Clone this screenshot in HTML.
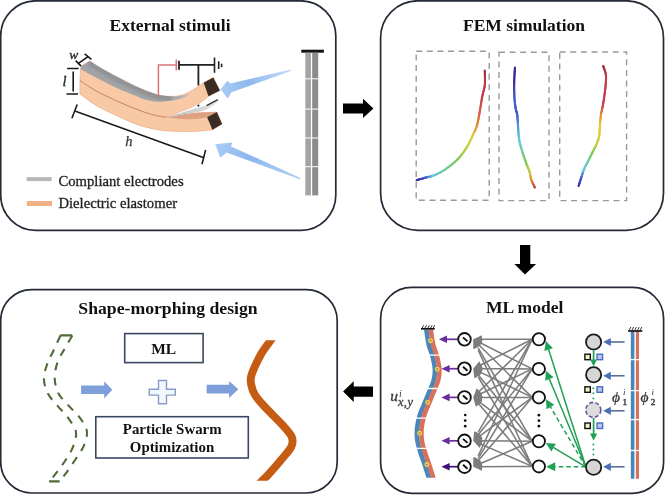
<!DOCTYPE html>
<html><head><meta charset="utf-8">
<style>
html,body{margin:0;padding:0;background:#fff;}
body{width:670px;height:495px;overflow:hidden;position:relative;}
svg{position:absolute;left:0;top:0;will-change:transform;}
.t{font-family:"Liberation Serif",serif;font-weight:bold;font-size:17.5px;fill:#111;}
text{font-family:"Liberation Serif",serif;}
</style></head><body>
<svg width="670" height="495" viewBox="0 0 670 495">
<!-- boxes -->
<g fill="none" stroke="#242a36" stroke-width="1.7">
<rect x="0.7" y="0.8" width="335.1" height="229.5" rx="35" ry="35"/>
<rect x="380.6" y="0.8" width="282.9" height="229.5" rx="37" ry="37"/>
<rect x="0.7" y="289.6" width="336.5" height="203.4" rx="31" ry="31"/>
<rect x="380.6" y="287.4" width="283" height="205.9" rx="31" ry="31"/>
</g>
<!-- big arrows -->
<g fill="#000">
<path d="M343,103.4 H363 V98.7 L373.4,108.4 L363,118.1 V113.4 H343 Z"/>
<path d="M520,245 H530.3 V264.1 H536.1 L525,274.6 L514.4,264.1 H520 Z"/>
<path d="M373,386.6 H353.7 V381.3 L343.1,391.6 L353.7,401.9 V396.7 H373 Z"/>
</g>
<!-- titles -->
<text class="t" x="109.5" y="31">External stimuli</text>
<text class="t" x="463" y="31">FEM simulation</text>
<text class="t" x="78.3" y="313.5" style="font-size:17.7px">Shape-morphing design</text>
<text class="t" x="486" y="313.2">ML model</text>
<path d="M80,80.6 C82.5,82.2 90.0,87.4 95.0,90.3 C100.0,93.2 105.0,95.4 110.0,97.8 C115.0,100.2 120.0,102.4 125.0,104.5 C130.0,106.6 135.0,108.8 140.0,110.6 C145.0,112.4 150.5,114.2 155.0,115.3 C159.5,116.4 162.8,117.1 167.0,117.2 C171.2,117.3 175.3,116.6 180.0,116.0 C184.7,115.4 190.5,114.2 195.0,113.6 C199.5,113.0 203.4,112.8 207.0,112.6 C210.6,112.3 215.2,112.2 216.8,112.1 L222.1,124 L212.4,129.8 C209.5,130.1 201.2,131.1 195.0,131.3 C188.8,131.6 181.2,131.6 175.0,131.3 C168.8,131.1 163.8,130.8 158.0,129.8 C152.2,128.8 145.5,127.2 140.0,125.5 C134.5,123.8 130.0,121.7 125.0,119.5 C120.0,117.3 115.0,115.0 110.0,112.5 C105.0,110.0 100.0,107.9 95.0,104.8 C90.0,101.7 82.5,95.8 80.0,94.0 Z" fill="#f9c9a6" stroke="#e8b08e" stroke-width="0.8"/>
<path d="M168.0,117.5 C170.0,117.8 176.0,118.7 180.0,119.0 C184.0,119.3 188.7,119.4 192.0,119.3 C195.3,119.2 197.5,118.9 200.0,118.6 C202.5,118.2 205.9,117.4 207.1,117.2 L216.8,112.1 C214.8,112.1 209.1,112.1 205.0,112.3 C200.9,112.5 196.2,112.6 192.0,113.0 C187.8,113.4 184.0,114.1 180.0,114.8 C176.0,115.5 170.0,116.9 168.0,117.3 Z" fill="#dea083"/>
<defs><linearGradient id="gapg" x1="170" y1="116" x2="218" y2="104" gradientUnits="userSpaceOnUse"><stop offset="0" stop-color="#bdbdbd"/><stop offset="0.6" stop-color="#d4d4d4"/><stop offset="1" stop-color="#e4e4e4"/></linearGradient></defs>
<path d="M168.0,117.2 C170.0,116.5 175.5,114.6 180.0,113.2 C184.5,111.8 190.6,109.9 195.0,108.6 C199.4,107.3 204.7,106.0 206.6,105.5 L217.8,99.7 L218.6,101.2 C217.5,102.0 214.3,104.7 212.0,106.2 C209.7,107.7 207.8,108.9 205.0,110.0 C202.2,111.1 199.2,111.8 195.0,112.6 C190.8,113.4 184.5,114.2 180.0,115.0 C175.5,115.8 170.0,117.0 168.0,117.4 Z" fill="url(#gapg)"/>
<path d="M206.6,105.6 L217.8,99.7" stroke="#333" stroke-width="1.3" fill="none"/>
<circle cx="198.4" cy="105.6" r="1.1" fill="#222"/>
<path d="M80.5,69 L81.7,66.1 L89.8,60.9 C91.5,62.0 96.6,65.5 100.0,67.5 C103.4,69.5 106.7,71.4 110.0,73.2 C113.3,75.0 115.8,76.3 120.0,78.4 C124.2,80.5 130.0,83.7 135.0,86.0 C140.0,88.3 145.8,90.8 150.0,92.3 C154.2,93.8 156.3,94.6 160.0,95.3 C163.7,96.0 168.3,96.5 172.0,96.5 C175.7,96.5 179.0,96.0 182.0,95.2 C185.0,94.4 187.5,92.9 190.0,91.6 C192.5,90.3 194.7,88.8 197.0,87.3 C199.3,85.8 202.6,83.5 203.7,82.8 L213.3,77.5 L219.9,90.6 L208.5,96.3 C207.1,97.4 203.2,100.8 200.0,102.8 C196.8,104.8 192.7,106.6 189.0,108.2 C185.3,109.8 181.3,111.2 178.0,112.6 C174.7,114.0 170.5,115.9 169.0,116.6 C165.0,116.9 159.5,116.4 155.0,115.3 C150.5,114.2 145.0,112.4 140.0,110.6 C135.0,108.8 130.0,106.6 125.0,104.5 C120.0,102.4 115.0,100.2 110.0,97.8 C105.0,95.4 100.0,93.2 95.0,90.3 C90.0,87.4 82.5,82.2 80.0,80.6 Z" fill="#f9c9a6" stroke="#e8b08e" stroke-width="0.8"/>
<defs><linearGradient id="grg" x1="160" y1="0" x2="193" y2="0" gradientUnits="userSpaceOnUse"><stop offset="0" stop-color="#a2a3a6"/><stop offset="0.55" stop-color="#abacae"/><stop offset="1" stop-color="#e8c4ac"/></linearGradient></defs>
<path d="M80.5,69 L81.7,66.1 L89.8,60.9 C91.5,62.0 96.6,65.5 100.0,67.5 C103.4,69.5 106.7,71.4 110.0,73.2 C113.3,75.0 115.8,76.3 120.0,78.4 C124.2,80.5 130.0,83.7 135.0,86.0 C140.0,88.3 145.8,90.8 150.0,92.3 C154.2,93.8 156.3,94.6 160.0,95.3 C163.7,96.0 168.0,96.5 172.0,96.5 C176.0,96.5 180.7,95.8 184.0,95.0 C187.3,94.2 190.7,92.5 192.0,92.0 C190.7,92.9 187.3,96.2 184.0,97.6 C180.7,99.0 176.3,99.9 172.0,100.6 C167.7,101.3 162.5,102.0 158.0,101.8 C153.5,101.6 148.8,100.6 145.0,99.6 C141.2,98.5 139.2,97.2 135.0,95.5 C130.8,93.8 124.2,91.2 120.0,89.4 C115.8,87.6 113.3,86.5 110.0,84.8 C106.7,83.1 103.3,81.2 100.0,79.5 C96.7,77.8 93.2,76.2 90.0,74.5 C86.8,72.8 82.5,70.2 81.0,69.3 Z" fill="url(#grg)"/>
<clipPath id="gclip"><path d="M80.5,69 L81.7,66.1 L89.8,60.9 C91.5,62.0 96.6,65.5 100.0,67.5 C103.4,69.5 106.7,71.4 110.0,73.2 C113.3,75.0 115.8,76.3 120.0,78.4 C124.2,80.5 130.0,83.7 135.0,86.0 C140.0,88.3 145.8,90.8 150.0,92.3 C154.2,93.8 156.3,94.6 160.0,95.3 C163.7,96.0 168.0,96.5 172.0,96.5 C176.0,96.5 180.7,95.8 184.0,95.0 C187.3,94.2 190.7,92.5 192.0,92.0 C190.7,92.9 187.3,96.2 184.0,97.6 C180.7,99.0 176.3,99.9 172.0,100.6 C167.7,101.3 162.5,102.0 158.0,101.8 C153.5,101.6 148.8,100.6 145.0,99.6 C141.2,98.5 139.2,97.2 135.0,95.5 C130.8,93.8 124.2,91.2 120.0,89.4 C115.8,87.6 113.3,86.5 110.0,84.8 C106.7,83.1 103.3,81.2 100.0,79.5 C96.7,77.8 93.2,76.2 90.0,74.5 C86.8,72.8 82.5,70.2 81.0,69.3 Z"/></clipPath>
<path d="M89.8,60.9 C91.5,62.0 96.6,65.5 100.0,67.5 C103.4,69.5 106.7,71.4 110.0,73.2 C113.3,75.0 115.8,76.3 120.0,78.4 C124.2,80.5 130.0,83.7 135.0,86.0 C140.0,88.3 145.8,90.8 150.0,92.3 C154.2,93.8 156.3,94.6 160.0,95.3 C163.7,96.0 170.0,96.3 172.0,96.5" fill="none" stroke="#8c8e92" stroke-width="9" stroke-opacity="0.75" clip-path="url(#gclip)" filter="url(#gblur)"/>
<filter id="gblur" x="-10%" y="-10%" width="120%" height="120%"><feGaussianBlur stdDeviation="1.2"/></filter>
<path d="M80.0,80.6 C82.5,82.2 90.0,87.4 95.0,90.3 C100.0,93.2 105.0,95.4 110.0,97.8 C115.0,100.2 120.0,102.4 125.0,104.5 C130.0,106.6 135.0,108.8 140.0,110.6 C145.0,112.4 150.5,114.2 155.0,115.3 C159.5,116.4 165.0,116.9 167.0,117.2" fill="none" stroke="#c48e6e" stroke-width="1"/>
<path d="M203.7,82.8 L213.3,77.5 L219.9,90.6 L208.5,96.3 Z" fill="#3b2b25"/>
<path d="M207.1,117.2 L216.8,112.1 L222.1,124 L212.4,129.8 Z" fill="#3b2b25"/>
<g fill="none" stroke-linecap="butt">
<path d="M158.4,96.5 V64.9 H176.3" stroke="#d9737a" stroke-width="1.5"/>
<path d="M176.3,59.5 V70.3" stroke="#d9737a" stroke-width="1.6"/>
<path d="M179,60.7 V69.7" stroke="#222" stroke-width="1.8"/>
<path d="M179,64.9 H214.5 M198.4,64.9 V85.5" stroke="#222" stroke-width="1.8"/>
<path d="M214.5,57.4 V72.7 M218.7,61.3 V69.1 M221.6,63.7 V67.3" stroke="#222" stroke-width="1.6"/>
</g>
<g stroke="#1a1a1a" stroke-width="1.6" fill="none">
<path d="M75.6,60.6 L81.1,66.1 M84.7,53.9 L91.4,59.4 M78.4,63.4 L88,56.6"/>
<path d="M67.1,68.5 H78.6 M73.2,71.5 V91.5 M66.5,94 H78"/>
<path d="M71.9,118.2 L77.2,104.5 M75.5,111.2 L203.2,157.5 M202,164.2 L205.6,149.9"/>
</g>
<text x="69.2" y="58.6" font-family="Liberation Serif" font-style="italic" font-size="13.5" fill="#2a2a2a" stroke="#2a2a2a" stroke-width="0.35">w</text>
<text x="62.6" y="86.2" font-family="Liberation Serif" font-style="italic" font-size="14.5" fill="#2a2a2a" stroke="#2a2a2a" stroke-width="0.35">l</text>
<text x="125.3" y="145.6" font-family="Liberation Serif" font-style="italic" font-size="14.5" fill="#3a3a3a" stroke="#3a3a3a" stroke-width="0.25">h</text>
<defs><linearGradient id="ba1" x1="290" y1="70" x2="220" y2="90" gradientUnits="userSpaceOnUse"><stop offset="0" stop-color="#c4dbf6"/><stop offset="0.6" stop-color="#8fb8ef"/><stop offset="1" stop-color="#a9cdf7"/></linearGradient><linearGradient id="ba2" x1="300" y1="178" x2="215" y2="144" gradientUnits="userSpaceOnUse"><stop offset="0" stop-color="#b5d0f4"/><stop offset="0.6" stop-color="#8db6ee"/><stop offset="1" stop-color="#a9cdf7"/></linearGradient></defs>
<path d="M290.6,69.5 L291,70.9 L231.5,92.2 L227.8,98.4 L220.5,89.3 L227.5,80.8 L230.5,83.4 Z" fill="url(#ba1)"/>
<path d="M300.6,178 L300.2,179.4 L226.5,152.6 L220.4,157.8 L215.2,144.2 L232.4,142.6 L231,146.4 Z" fill="url(#ba2)"/>
<rect x="301.3" y="49.7" width="22.6" height="3" fill="#111"/>
<rect x="305.3" y="52.7" width="5.7" height="25.6" fill="#a4a4a4"/>
<rect x="312.2" y="52.7" width="6" height="25.6" fill="#8c8c8c"/>
<rect x="305.3" y="79.3" width="5.7" height="29.3" fill="#a4a4a4"/>
<rect x="312.2" y="79.3" width="6" height="29.3" fill="#8c8c8c"/>
<rect x="305.3" y="109.6" width="5.7" height="27.9" fill="#a4a4a4"/>
<rect x="312.2" y="109.6" width="6" height="27.9" fill="#8c8c8c"/>
<rect x="305.3" y="138.5" width="5.7" height="27.7" fill="#a4a4a4"/>
<rect x="312.2" y="138.5" width="6" height="27.7" fill="#8c8c8c"/>
<rect x="305.3" y="167.2" width="5.7" height="28.2" fill="#a4a4a4"/>
<rect x="312.2" y="167.2" width="6" height="28.2" fill="#8c8c8c"/>
<rect x="26.7" y="177.1" width="25" height="4" fill="#b8b8b8"/>
<rect x="26.8" y="201" width="25.2" height="5" fill="#f2b185"/>
<text x="58.4" y="186" font-family="Liberation Serif" font-size="14.7" fill="#222" stroke="#222" stroke-width="0.3">Compliant electrodes</text>
<text x="58.4" y="208" font-family="Liberation Serif" font-size="14.7" fill="#222" stroke="#222" stroke-width="0.3">Dielectric elastomer</text>
<g fill="none" stroke="#999" stroke-width="1.4" stroke-dasharray="6 4.6">
<rect x="416.2" y="51.3" width="73.0" height="148.9"/>
<rect x="499" y="52.2" width="50.0" height="148.4"/>
<rect x="559.7" y="52" width="66.9" height="148.6"/>
</g>
<g fill="none" stroke-width="2.1" stroke-linecap="round"><path d="M416.60,180.20 L417.15,180.04" stroke="#3c2a98"/><path d="M417.15,180.04 L417.86,179.84" stroke="#3d2f9d"/><path d="M417.86,179.84 L418.70,179.60" stroke="#3e34a2"/><path d="M418.70,179.60 L419.64,179.32" stroke="#3e38a7"/><path d="M419.64,179.32 L420.66,179.03" stroke="#3f3dac"/><path d="M420.66,179.03 L421.71,178.73" stroke="#4042b1"/><path d="M421.71,178.73 L422.77,178.43" stroke="#4147b6"/><path d="M422.77,178.43 L423.81,178.13" stroke="#424cbb"/><path d="M423.81,178.13 L424.80,177.85" stroke="#4250c0"/><path d="M424.80,177.85 L425.70,177.60" stroke="#4355c5"/><path d="M425.70,177.60 L426.53,177.38" stroke="#455dc9"/><path d="M426.53,177.38 L427.32,177.20" stroke="#4868cb"/><path d="M427.32,177.20 L428.08,177.03" stroke="#4c74cd"/><path d="M428.08,177.03 L428.82,176.88" stroke="#4f7fcf"/><path d="M428.82,176.88 L429.56,176.72" stroke="#528ad1"/><path d="M429.56,176.72 L430.31,176.55" stroke="#5595d4"/><path d="M430.31,176.55 L431.08,176.35" stroke="#58a0d6"/><path d="M431.08,176.35 L431.87,176.12" stroke="#5cacd8"/><path d="M431.87,176.12 L432.71,175.84" stroke="#5fb7da"/><path d="M432.71,175.84 L433.60,175.50" stroke="#62c2dc"/><path d="M433.60,175.50 L434.53,175.12" stroke="#64c8db"/><path d="M434.53,175.12 L435.49,174.73" stroke="#65c8d5"/><path d="M435.49,174.73 L436.48,174.31" stroke="#66c9cf"/><path d="M436.48,174.31 L437.49,173.86" stroke="#67c9ca"/><path d="M437.49,173.86 L438.52,173.38" stroke="#68cac4"/><path d="M438.52,173.38 L439.59,172.85" stroke="#69cabe"/><path d="M439.59,172.85 L440.68,172.27" stroke="#6acbb8"/><path d="M440.68,172.27 L441.79,171.64" stroke="#6bcbb3"/><path d="M441.79,171.64 L442.93,170.95" stroke="#6cccad"/><path d="M442.93,170.95 L444.10,170.20" stroke="#6dcca7"/><path d="M444.10,170.20 L445.32,169.37" stroke="#6ecca1"/><path d="M445.32,169.37 L446.62,168.45" stroke="#70cc99"/><path d="M446.62,168.45 L447.96,167.47" stroke="#72cb92"/><path d="M447.96,167.47 L449.34,166.44" stroke="#74cb8a"/><path d="M449.34,166.44 L450.73,165.36" stroke="#76ca83"/><path d="M450.73,165.36 L452.12,164.24" stroke="#77ca7b"/><path d="M452.12,164.24 L453.47,163.11" stroke="#79c974"/><path d="M453.47,163.11 L454.79,161.97" stroke="#7bc96c"/><path d="M454.79,161.97 L456.04,160.83" stroke="#7dc865"/><path d="M456.04,160.83 L457.20,159.70" stroke="#7fc85d"/><path d="M457.20,159.70 L458.29,158.58" stroke="#82c858"/><path d="M458.29,158.58 L459.33,157.44" stroke="#88c956"/><path d="M459.33,157.44 L460.33,156.30" stroke="#8eca54"/><path d="M460.33,156.30 L461.29,155.14" stroke="#93cb51"/><path d="M461.29,155.14 L462.21,153.96" stroke="#99cc4f"/><path d="M462.21,153.96 L463.09,152.78" stroke="#9fcd4c"/><path d="M463.09,152.78 L463.95,151.58" stroke="#a5ce4a"/><path d="M463.95,151.58 L464.79,150.36" stroke="#aacf48"/><path d="M464.79,150.36 L465.60,149.14" stroke="#b0d045"/><path d="M465.60,149.14 L466.40,147.90" stroke="#b6d143"/><path d="M466.40,147.90 L467.18,146.63" stroke="#bbd141"/><path d="M467.18,146.63 L467.93,145.30" stroke="#bfd140"/><path d="M467.93,145.30 L468.66,143.94" stroke="#c3d040"/><path d="M468.66,143.94 L469.36,142.57" stroke="#c7d03f"/><path d="M469.36,142.57 L470.03,141.19" stroke="#cbcf3e"/><path d="M470.03,141.19 L470.68,139.82" stroke="#cfcf3d"/><path d="M470.68,139.82 L471.30,138.48" stroke="#d3ce3c"/><path d="M471.30,138.48 L471.89,137.19" stroke="#d7ce3c"/><path d="M471.89,137.19 L472.46,135.96" stroke="#dbcd3b"/><path d="M472.46,135.96 L473.00,134.80" stroke="#dfcd3a"/><path d="M473.00,134.80 L473.50,133.74" stroke="#e2ca3a"/><path d="M473.50,133.74 L473.97,132.77" stroke="#e2c43a"/><path d="M473.97,132.77 L474.41,131.88" stroke="#e3bf3a"/><path d="M474.41,131.88 L474.81,131.03" stroke="#e3b93a"/><path d="M474.81,131.03 L475.19,130.20" stroke="#e3b43a"/><path d="M475.19,130.20 L475.56,129.37" stroke="#e4ae3a"/><path d="M475.56,129.37 L475.90,128.52" stroke="#e4a93a"/><path d="M475.90,128.52 L476.24,127.63" stroke="#e5a33a"/><path d="M476.24,127.63 L476.57,126.66" stroke="#e59e3a"/><path d="M476.57,126.66 L476.90,125.60" stroke="#e5983a"/><path d="M476.90,125.60 L477.22,124.46" stroke="#e5933a"/><path d="M477.22,124.46 L477.52,123.27" stroke="#e38d3a"/><path d="M477.52,123.27 L477.80,122.04" stroke="#e2883b"/><path d="M477.80,122.04 L478.07,120.77" stroke="#e0833c"/><path d="M478.07,120.77 L478.33,119.46" stroke="#de7d3c"/><path d="M478.33,119.46 L478.58,118.12" stroke="#dd783d"/><path d="M478.58,118.12 L478.84,116.75" stroke="#db723d"/><path d="M478.84,116.75 L479.09,115.36" stroke="#da6d3e"/><path d="M479.09,115.36 L479.34,113.94" stroke="#d8683f"/><path d="M479.34,113.94 L479.60,112.50" stroke="#d6623f"/><path d="M479.60,112.50 L479.86,111.01" stroke="#d55e40"/><path d="M479.86,111.01 L480.13,109.45" stroke="#d35a41"/><path d="M480.13,109.45 L480.39,107.83" stroke="#d15742"/><path d="M480.39,107.83 L480.65,106.18" stroke="#cf5342"/><path d="M480.65,106.18 L480.91,104.52" stroke="#cd4f43"/><path d="M480.91,104.52 L481.16,102.86" stroke="#cc4c44"/><path d="M481.16,102.86 L481.42,101.23" stroke="#ca4845"/><path d="M481.42,101.23 L481.68,99.65" stroke="#c84546"/><path d="M481.68,99.65 L481.94,98.13" stroke="#c64146"/><path d="M481.94,98.13 L482.20,96.70" stroke="#c43d47"/><path d="M482.20,96.70 L482.47,95.37" stroke="#c43c48"/><path d="M482.47,95.37 L482.76,94.13" stroke="#c43c48"/><path d="M482.76,94.13 L483.06,92.95" stroke="#c43c48"/><path d="M483.06,92.95 L483.36,91.82" stroke="#c43c48"/><path d="M483.36,91.82 L483.66,90.71" stroke="#c43c48"/><path d="M483.66,90.71 L483.95,89.62" stroke="#c43c48"/><path d="M483.95,89.62 L484.21,88.51" stroke="#c43c48"/><path d="M484.21,88.51 L484.45,87.36" stroke="#c43c48"/><path d="M484.45,87.36 L484.65,86.17" stroke="#c43c48"/><path d="M484.65,86.17 L484.80,84.90" stroke="#c43c48"/><path d="M484.80,84.90 L484.91,83.50" stroke="#c23b48"/><path d="M484.91,83.50 L484.97,81.96" stroke="#bf3948"/><path d="M484.97,81.96 L484.99,80.32" stroke="#bc3848"/><path d="M484.99,80.32 L484.99,78.64" stroke="#b83648"/><path d="M484.99,78.64 L484.96,76.96" stroke="#b53548"/><path d="M484.96,76.96 L484.92,75.35" stroke="#b23348"/><path d="M484.92,75.35 L484.88,73.84" stroke="#af3248"/><path d="M484.88,73.84 L484.84,72.50" stroke="#ac3048"/><path d="M484.84,72.50 L484.81,71.37" stroke="#a82f48"/><path d="M484.81,71.37 L484.80,70.50" stroke="#a52d48"/></g>
<g fill="none" stroke-width="2.1" stroke-linecap="round"><path d="M515.00,67.60 L514.95,68.44" stroke="#3c2896"/><path d="M514.95,68.44 L514.87,69.50" stroke="#3c2896"/><path d="M514.87,69.50 L514.78,70.75" stroke="#3c2896"/><path d="M514.78,70.75 L514.68,72.15" stroke="#3c2896"/><path d="M514.68,72.15 L514.58,73.67" stroke="#3c2896"/><path d="M514.58,73.67 L514.48,75.28" stroke="#3c2896"/><path d="M514.48,75.28 L514.38,76.93" stroke="#3c2896"/><path d="M514.38,76.93 L514.30,78.59" stroke="#3c2896"/><path d="M514.30,78.59 L514.24,80.23" stroke="#3c2896"/><path d="M514.24,80.23 L514.20,81.80" stroke="#3c2896"/><path d="M514.20,81.80 L514.18,83.38" stroke="#3c2a98"/><path d="M514.18,83.38 L514.17,85.03" stroke="#3d2f9d"/><path d="M514.17,85.03 L514.18,86.73" stroke="#3e34a2"/><path d="M514.18,86.73 L514.19,88.47" stroke="#3e38a7"/><path d="M514.19,88.47 L514.22,90.21" stroke="#3f3dac"/><path d="M514.22,90.21 L514.26,91.93" stroke="#4042b1"/><path d="M514.26,91.93 L514.30,93.61" stroke="#4147b6"/><path d="M514.30,93.61 L514.36,95.24" stroke="#424cbb"/><path d="M514.36,95.24 L514.42,96.77" stroke="#4250c0"/><path d="M514.42,96.77 L514.50,98.20" stroke="#4355c5"/><path d="M514.50,98.20 L514.59,99.54" stroke="#4458c8"/><path d="M514.59,99.54 L514.69,100.82" stroke="#4458c8"/><path d="M514.69,100.82 L514.81,102.05" stroke="#4458c8"/><path d="M514.81,102.05 L514.94,103.22" stroke="#4458c8"/><path d="M514.94,103.22 L515.08,104.34" stroke="#4458c8"/><path d="M515.08,104.34 L515.22,105.40" stroke="#4458c8"/><path d="M515.22,105.40 L515.37,106.41" stroke="#4458c8"/><path d="M515.37,106.41 L515.52,107.36" stroke="#4458c8"/><path d="M515.52,107.36 L515.66,108.26" stroke="#4458c8"/><path d="M515.66,108.26 L515.80,109.10" stroke="#4458c8"/><path d="M515.80,109.10 L515.94,109.84" stroke="#4458c8"/><path d="M515.94,109.84 L516.08,110.44" stroke="#4458c8"/><path d="M516.08,110.44 L516.23,110.95" stroke="#4458c8"/><path d="M516.23,110.95 L516.38,111.39" stroke="#4458c8"/><path d="M516.38,111.39 L516.53,111.79" stroke="#4458c8"/><path d="M516.53,111.79 L516.68,112.20" stroke="#4458c8"/><path d="M516.68,112.20 L516.82,112.64" stroke="#4458c8"/><path d="M516.82,112.64 L516.96,113.15" stroke="#4458c8"/><path d="M516.96,113.15 L517.08,113.76" stroke="#4458c8"/><path d="M517.08,113.76 L517.20,114.50" stroke="#4458c8"/><path d="M517.20,114.50 L517.30,115.36" stroke="#445ac9"/><path d="M517.30,115.36 L517.39,116.30" stroke="#4560cb"/><path d="M517.39,116.30 L517.47,117.31" stroke="#4766cd"/><path d="M517.47,117.31 L517.55,118.37" stroke="#486bcf"/><path d="M517.55,118.37 L517.62,119.49" stroke="#4971d1"/><path d="M517.62,119.49 L517.69,120.64" stroke="#4a77d3"/><path d="M517.69,120.64 L517.76,121.83" stroke="#4b7dd5"/><path d="M517.76,121.83 L517.83,123.04" stroke="#4d82d7"/><path d="M517.83,123.04 L517.91,124.27" stroke="#4e88d9"/><path d="M517.91,124.27 L518.00,125.50" stroke="#4f8edb"/><path d="M518.00,125.50 L518.09,126.77" stroke="#5193dc"/><path d="M518.09,126.77 L518.18,128.10" stroke="#5399dc"/><path d="M518.18,128.10 L518.26,129.47" stroke="#559edc"/><path d="M518.26,129.47 L518.34,130.88" stroke="#57a4dc"/><path d="M518.34,130.88 L518.43,132.31" stroke="#59a9dc"/><path d="M518.43,132.31 L518.53,133.73" stroke="#5bafdd"/><path d="M518.53,133.73 L518.64,135.14" stroke="#5db4dd"/><path d="M518.64,135.14 L518.77,136.51" stroke="#5fbadd"/><path d="M518.77,136.51 L518.92,137.84" stroke="#61bfdd"/><path d="M518.92,137.84 L519.10,139.10" stroke="#63c5dd"/><path d="M519.10,139.10 L519.30,140.29" stroke="#64c8db"/><path d="M519.30,140.29 L519.52,141.43" stroke="#65c8d5"/><path d="M519.52,141.43 L519.75,142.52" stroke="#66c9cf"/><path d="M519.75,142.52 L520.00,143.59" stroke="#67c9ca"/><path d="M520.00,143.59 L520.26,144.63" stroke="#68cac4"/><path d="M520.26,144.63 L520.54,145.67" stroke="#69cabe"/><path d="M520.54,145.67 L520.84,146.71" stroke="#6acbb8"/><path d="M520.84,146.71 L521.14,147.77" stroke="#6bcbb3"/><path d="M521.14,147.77 L521.47,148.87" stroke="#6cccad"/><path d="M521.47,148.87 L521.80,150.00" stroke="#6dcca7"/><path d="M521.80,150.00 L522.16,151.19" stroke="#6ecca1"/><path d="M522.16,151.19 L522.54,152.42" stroke="#70cc99"/><path d="M522.54,152.42 L522.94,153.68" stroke="#72cb92"/><path d="M522.94,153.68 L523.36,154.95" stroke="#74cb8a"/><path d="M523.36,154.95 L523.79,156.24" stroke="#76ca83"/><path d="M523.79,156.24 L524.23,157.51" stroke="#77ca7b"/><path d="M524.23,157.51 L524.66,158.77" stroke="#79c974"/><path d="M524.66,158.77 L525.09,160.00" stroke="#7bc96c"/><path d="M525.09,160.00 L525.50,161.18" stroke="#7dc865"/><path d="M525.50,161.18 L525.90,162.30" stroke="#7fc85d"/><path d="M525.90,162.30 L526.29,163.37" stroke="#82c858"/><path d="M526.29,163.37 L526.68,164.40" stroke="#88c956"/><path d="M526.68,164.40 L527.07,165.40" stroke="#8eca54"/><path d="M527.07,165.40 L527.46,166.36" stroke="#93cb51"/><path d="M527.46,166.36 L527.84,167.31" stroke="#99cc4f"/><path d="M527.84,167.31 L528.21,168.23" stroke="#9fcd4c"/><path d="M528.21,168.23 L528.56,169.13" stroke="#a5ce4a"/><path d="M528.56,169.13 L528.90,170.03" stroke="#aacf48"/><path d="M528.90,170.03 L529.21,170.92" stroke="#b0d045"/><path d="M529.21,170.92 L529.50,171.80" stroke="#b6d143"/><path d="M529.50,171.80 L529.75,172.68" stroke="#bbce41"/><path d="M529.75,172.68 L529.96,173.53" stroke="#bfc840"/><path d="M529.96,173.53 L530.14,174.37" stroke="#c4c340"/><path d="M530.14,174.37 L530.31,175.20" stroke="#c8bd3f"/><path d="M530.31,175.20 L530.46,176.02" stroke="#cdb73e"/><path d="M530.46,176.02 L530.61,176.83" stroke="#d1b03d"/><path d="M530.61,176.83 L530.77,177.63" stroke="#d6aa3c"/><path d="M530.77,177.63 L530.94,178.42" stroke="#daa53c"/><path d="M530.94,178.42 L531.15,179.21" stroke="#df9f3b"/><path d="M531.15,179.21 L531.40,180.00" stroke="#e3993a"/><path d="M531.40,180.00 L531.70,180.82" stroke="#e4913a"/><path d="M531.70,180.82 L532.05,181.68" stroke="#e0883c"/><path d="M532.05,181.68 L532.44,182.56" stroke="#dd7f3d"/><path d="M532.44,182.56 L532.85,183.45" stroke="#da763e"/><path d="M532.85,183.45 L533.27,184.31" stroke="#d66d40"/><path d="M533.27,184.31 L533.68,185.14" stroke="#d36441"/><path d="M533.68,185.14 L534.06,185.90" stroke="#cf5b43"/><path d="M534.06,185.90 L534.40,186.58" stroke="#cc5244"/><path d="M534.40,186.58 L534.68,187.15" stroke="#c94945"/><path d="M534.68,187.15 L534.90,187.60" stroke="#c54047"/></g>
<g fill="none" stroke-width="2.1" stroke-linecap="round"><path d="M578.60,186.00 L578.77,185.48" stroke="#3c2a98"/><path d="M578.77,185.48 L578.98,184.81" stroke="#3d2f9d"/><path d="M578.98,184.81 L579.24,184.01" stroke="#3e34a2"/><path d="M579.24,184.01 L579.52,183.12" stroke="#3e38a7"/><path d="M579.52,183.12 L579.83,182.16" stroke="#3f3dac"/><path d="M579.83,182.16 L580.15,181.16" stroke="#4042b1"/><path d="M580.15,181.16 L580.48,180.15" stroke="#4147b6"/><path d="M580.48,180.15 L580.80,179.15" stroke="#424cbb"/><path d="M580.80,179.15 L581.11,178.19" stroke="#4250c0"/><path d="M581.11,178.19 L581.40,177.30" stroke="#4355c5"/><path d="M581.40,177.30 L581.67,176.46" stroke="#455dc9"/><path d="M581.67,176.46 L581.92,175.63" stroke="#4868cb"/><path d="M581.92,175.63 L582.17,174.80" stroke="#4c74cd"/><path d="M582.17,174.80 L582.42,173.98" stroke="#4f7fcf"/><path d="M582.42,173.98 L582.67,173.17" stroke="#528ad1"/><path d="M582.67,173.17 L582.92,172.36" stroke="#5595d4"/><path d="M582.92,172.36 L583.19,171.54" stroke="#58a0d6"/><path d="M583.19,171.54 L583.47,170.73" stroke="#5cacd8"/><path d="M583.47,170.73 L583.77,169.92" stroke="#5fb7da"/><path d="M583.77,169.92 L584.10,169.10" stroke="#62c2dc"/><path d="M584.10,169.10 L584.45,168.28" stroke="#64c8db"/><path d="M584.45,168.28 L584.83,167.46" stroke="#65c8d5"/><path d="M584.83,167.46 L585.23,166.64" stroke="#66c9cf"/><path d="M585.23,166.64 L585.64,165.82" stroke="#67c9ca"/><path d="M585.64,165.82 L586.06,165.00" stroke="#68cac4"/><path d="M586.06,165.00 L586.49,164.18" stroke="#69cabe"/><path d="M586.49,164.18 L586.93,163.36" stroke="#6acbb8"/><path d="M586.93,163.36 L587.36,162.54" stroke="#6bcbb3"/><path d="M587.36,162.54 L587.78,161.72" stroke="#6cccad"/><path d="M587.78,161.72 L588.20,160.90" stroke="#6dcca7"/><path d="M588.20,160.90 L588.61,160.08" stroke="#6ecca1"/><path d="M588.61,160.08 L589.02,159.26" stroke="#70cc99"/><path d="M589.02,159.26 L589.43,158.44" stroke="#72cb92"/><path d="M589.43,158.44 L589.84,157.62" stroke="#74cb8a"/><path d="M589.84,157.62 L590.25,156.80" stroke="#76ca83"/><path d="M590.25,156.80 L590.66,155.98" stroke="#77ca7b"/><path d="M590.66,155.98 L591.07,155.16" stroke="#79c974"/><path d="M591.07,155.16 L591.48,154.34" stroke="#7bc96c"/><path d="M591.48,154.34 L591.89,153.52" stroke="#7dc865"/><path d="M591.89,153.52 L592.30,152.70" stroke="#7fc85d"/><path d="M592.30,152.70 L592.72,151.88" stroke="#82c858"/><path d="M592.72,151.88 L593.14,151.06" stroke="#88c956"/><path d="M593.14,151.06 L593.57,150.24" stroke="#8eca54"/><path d="M593.57,150.24 L594.01,149.42" stroke="#93cb51"/><path d="M594.01,149.42 L594.44,148.59" stroke="#99cc4f"/><path d="M594.44,148.59 L594.86,147.77" stroke="#9fcd4c"/><path d="M594.86,147.77 L595.27,146.95" stroke="#a5ce4a"/><path d="M595.27,146.95 L595.67,146.13" stroke="#aacf48"/><path d="M595.67,146.13 L596.05,145.32" stroke="#b0d045"/><path d="M596.05,145.32 L596.40,144.50" stroke="#b6d143"/><path d="M596.40,144.50 L596.74,143.70" stroke="#bbd141"/><path d="M596.74,143.70 L597.06,142.92" stroke="#bfd140"/><path d="M597.06,142.92 L597.37,142.15" stroke="#c3d040"/><path d="M597.37,142.15 L597.67,141.39" stroke="#c7d03f"/><path d="M597.67,141.39 L597.96,140.62" stroke="#cbcf3e"/><path d="M597.96,140.62 L598.22,139.84" stroke="#cfcf3d"/><path d="M598.22,139.84 L598.47,139.03" stroke="#d3ce3c"/><path d="M598.47,139.03 L598.70,138.20" stroke="#d7ce3c"/><path d="M598.70,138.20 L598.91,137.32" stroke="#dbcd3b"/><path d="M598.91,137.32 L599.10,136.40" stroke="#dfcd3a"/><path d="M599.10,136.40 L599.26,135.42" stroke="#e2cd3a"/><path d="M599.26,135.42 L599.38,134.40" stroke="#e2cd3a"/><path d="M599.38,134.40 L599.47,133.34" stroke="#e2cd3a"/><path d="M599.47,133.34 L599.54,132.25" stroke="#e2cd3a"/><path d="M599.54,132.25 L599.60,131.13" stroke="#e2cd3a"/><path d="M599.60,131.13 L599.65,130.00" stroke="#e2cd3a"/><path d="M599.65,130.00 L599.70,128.87" stroke="#e2cd3a"/><path d="M599.70,128.87 L599.75,127.73" stroke="#e2cd3a"/><path d="M599.75,127.73 L599.82,126.61" stroke="#e2cd3a"/><path d="M599.82,126.61 L599.90,125.50" stroke="#e2cd3a"/><path d="M599.90,125.50 L599.99,124.40" stroke="#e2ca3a"/><path d="M599.99,124.40 L600.08,123.30" stroke="#e2c43a"/><path d="M600.08,123.30 L600.17,122.20" stroke="#e3bf3a"/><path d="M600.17,122.20 L600.27,121.10" stroke="#e3b93a"/><path d="M600.27,121.10 L600.36,120.00" stroke="#e3b43a"/><path d="M600.36,120.00 L600.47,118.90" stroke="#e4ae3a"/><path d="M600.47,118.90 L600.58,117.80" stroke="#e4a93a"/><path d="M600.58,117.80 L600.70,116.70" stroke="#e5a33a"/><path d="M600.70,116.70 L600.84,115.60" stroke="#e59e3a"/><path d="M600.84,115.60 L601.00,114.50" stroke="#e5983a"/><path d="M601.00,114.50 L601.18,113.43" stroke="#e4913a"/><path d="M601.18,113.43 L601.37,112.40" stroke="#e0883c"/><path d="M601.37,112.40 L601.58,111.39" stroke="#dd7f3d"/><path d="M601.58,111.39 L601.80,110.39" stroke="#da763e"/><path d="M601.80,110.39 L602.03,109.38" stroke="#d66d40"/><path d="M602.03,109.38 L602.27,108.34" stroke="#d36441"/><path d="M602.27,108.34 L602.51,107.26" stroke="#cf5b43"/><path d="M602.51,107.26 L602.74,106.12" stroke="#cc5244"/><path d="M602.74,106.12 L602.98,104.91" stroke="#c94945"/><path d="M602.98,104.91 L603.20,103.60" stroke="#c54047"/><path d="M603.20,103.60 L603.43,102.17" stroke="#c43c48"/><path d="M603.43,102.17 L603.67,100.62" stroke="#c43c48"/><path d="M603.67,100.62 L603.91,98.98" stroke="#c43c48"/><path d="M603.91,98.98 L604.16,97.28" stroke="#c43c48"/><path d="M604.16,97.28 L604.41,95.54" stroke="#c43c48"/><path d="M604.41,95.54 L604.64,93.79" stroke="#c43c48"/><path d="M604.64,93.79 L604.86,92.07" stroke="#c43c48"/><path d="M604.86,92.07 L605.07,90.39" stroke="#c43c48"/><path d="M605.07,90.39 L605.25,88.79" stroke="#c43c48"/><path d="M605.25,88.79 L605.40,87.30" stroke="#c43c48"/><path d="M605.40,87.30 L605.53,85.89" stroke="#c43c48"/><path d="M605.53,85.89 L605.66,84.53" stroke="#c43c48"/><path d="M605.66,84.53 L605.78,83.21" stroke="#c43c48"/><path d="M605.78,83.21 L605.88,81.93" stroke="#c43c48"/><path d="M605.88,81.93 L605.96,80.69" stroke="#c43c48"/><path d="M605.96,80.69 L606.01,79.49" stroke="#c43c48"/><path d="M606.01,79.49 L606.04,78.32" stroke="#c43c48"/><path d="M606.04,78.32 L606.03,77.18" stroke="#c43c48"/><path d="M606.03,77.18 L605.99,76.08" stroke="#c43c48"/><path d="M605.99,76.08 L605.90,75.00" stroke="#c43c48"/><path d="M605.90,75.00 L605.75,73.93" stroke="#c23b48"/><path d="M605.75,73.93 L605.52,72.84" stroke="#bf3948"/><path d="M605.52,72.84 L605.24,71.77" stroke="#bc3848"/><path d="M605.24,71.77 L604.92,70.73" stroke="#b83648"/><path d="M604.92,70.73 L604.58,69.73" stroke="#b53548"/><path d="M604.58,69.73 L604.24,68.79" stroke="#b23348"/><path d="M604.24,68.79 L603.91,67.93" stroke="#af3248"/><path d="M603.91,67.93 L603.62,67.17" stroke="#ac3048"/><path d="M603.62,67.17 L603.38,66.52" stroke="#a82f48"/><path d="M603.38,66.52 L603.20,66.00" stroke="#a52d48"/></g>
<g fill="none" stroke="#4f6b3a" stroke-width="2.1" stroke-dasharray="8 7.4">
<path d="M60.5,335.5 C59.4,337.9 55.9,345.4 53.7,350.2 C51.5,355.0 48.7,359.5 47.1,364.3 C45.5,369.1 43.7,374.2 43.9,379.2 C44.1,384.2 45.9,389.6 48.2,394.1 C50.5,398.6 54.5,402.2 57.8,406.1 C61.0,410.0 64.7,413.1 67.7,417.4 C70.7,421.6 75.0,426.8 75.9,431.6 C76.8,436.4 75.0,441.4 73.3,446.1 C71.6,450.8 68.6,455.3 65.8,459.7 C63.0,464.1 59.4,468.7 56.7,472.3 C54.0,475.9 50.6,479.9 49.4,481.4"/>
<path d="M72.3,335.6 C71.0,337.9 66.8,344.6 64.3,349.2 C61.8,353.8 58.8,358.4 57.2,363.3 C55.6,368.2 54.5,373.5 54.7,378.5 C54.9,383.5 56.2,388.9 58.5,393.4 C60.8,397.9 65.0,401.5 68.4,405.4 C71.8,409.3 75.9,412.4 79.0,416.7 C82.1,420.9 86.0,426.1 86.8,430.9 C87.6,435.7 85.7,441.0 83.9,445.6 C82.1,450.2 78.7,454.4 75.9,458.7 C73.1,463.0 70.0,467.5 67.3,471.3 C64.6,475.1 61.0,479.7 59.7,481.4"/>
</g>
<path d="M60.2,335.4 H72.3 M49.1,481.4 H59.7" stroke="#4f6b3a" stroke-width="2.1" fill="none"/>
<rect x="124.7" y="333.6" width="78.4" height="29" fill="#fff" stroke="#3a4762" stroke-width="1.6"/>
<rect x="95.8" y="416.7" width="152.5" height="41.3" fill="#fff" stroke="#3a4762" stroke-width="1.6"/>
<text x="163.7" y="353.6" text-anchor="middle" class="t" style="font-size:15.5px">ML</text>
<text x="172.2" y="434.2" text-anchor="middle" class="t" style="font-size:14.9px">Particle Swarm</text>
<text x="172" y="451.6" text-anchor="middle" class="t" style="font-size:14.9px">Optimization</text>
<path d="M81.1,385.5 H104.2 V381.3 L112.3,389.8 L104.2,398.4 V394.1 H81.1 Z" fill="#7f9fda"/>
<path d="M206.6,384.7 H229.1 V380.9 L238.4,389.2 L229.1,397.9 V393.6 H206.6 Z" fill="#7f9fda"/>
<path d="M158.5,380.5 H166.5 V389.3 H175.3 V395.1 H166.5 V403.7 H158.5 V395.1 H149.3 V389.3 H158.5 Z" fill="#f3f7fe" stroke="#8a9bc8" stroke-width="1.4"/>
<defs><clipPath id="oclip"><rect x="230" y="340.3" width="80" height="140.4"/></clipPath></defs>
<path d="M273.5,336.0 C273.1,336.7 272.9,337.0 270.8,340.2 C268.7,343.4 263.8,349.2 260.6,355.0 C257.4,360.8 253.1,370.0 251.5,375.0 C249.9,380.0 250.7,381.7 251.3,385.0 C251.9,388.3 252.7,391.3 255.0,395.0 C257.3,398.7 260.4,402.0 265.0,407.0 C269.6,412.0 278.0,420.0 282.5,425.0 C287.0,430.0 290.4,433.3 291.8,437.0 C293.2,440.7 293.0,443.2 291.2,447.0 C289.4,450.8 284.9,455.2 281.0,460.0 C277.1,464.8 270.7,472.0 267.5,475.5 C264.3,479.0 263.9,479.1 262.0,481.0 C260.1,482.9 257.0,486.0 256.0,487.0" fill="none" stroke="#c55c14" stroke-width="7.9" clip-path="url(#oclip)"/>
<defs><clipPath id="lsclip"><rect x="400" y="329.5" width="60" height="148.2"/></clipPath></defs>
<g clip-path="url(#lsclip)" fill="none">
<path d="M426.1,326.0 C426.1,326.6 425.9,326.3 426.3,329.5 C426.8,332.7 427.8,340.8 428.8,345.0 C429.8,349.2 431.1,351.2 432.1,355.0 C433.1,358.8 434.5,363.8 434.8,368.0 C435.1,372.2 434.9,375.7 433.8,380.0 C432.7,384.3 430.0,389.8 428.3,394.0 C426.6,398.2 425.2,401.5 423.8,405.0 C422.4,408.5 420.9,411.2 419.8,415.0 C418.7,418.8 417.5,423.8 417.1,428.0 C416.7,432.2 416.8,436.0 417.3,440.0 C417.8,444.0 419.1,447.8 420.3,452.0 C421.6,456.2 423.4,460.7 424.8,465.0 C426.2,469.3 427.9,474.9 428.8,477.7 C429.7,480.5 430.1,481.3 430.3,482.0" stroke="#4a86b8" stroke-width="4.6"/>
<path d="M430.6,326.0 C430.6,326.6 430.4,326.3 430.8,329.5 C431.2,332.7 432.3,340.8 433.3,345.0 C434.3,349.2 435.6,351.2 436.6,355.0 C437.6,358.8 439.0,363.8 439.3,368.0 C439.6,372.2 439.4,375.7 438.3,380.0 C437.2,384.3 434.5,389.8 432.8,394.0 C431.1,398.2 429.7,401.5 428.3,405.0 C426.9,408.5 425.4,411.2 424.3,415.0 C423.2,418.8 422.0,423.8 421.6,428.0 C421.2,432.2 421.3,436.0 421.8,440.0 C422.3,444.0 423.6,447.8 424.8,452.0 C426.1,456.2 427.9,460.7 429.3,465.0 C430.7,469.3 432.4,474.9 433.3,477.7 C434.2,480.5 434.6,481.3 434.8,482.0" stroke="#d8705e" stroke-width="4.6"/>
</g>
<path d="M410,355.2 H445" stroke="#fff" stroke-width="1.3"/>
<path d="M410,388.5 H445" stroke="#fff" stroke-width="1.3"/>
<path d="M410,418.2 H445" stroke="#fff" stroke-width="1.3"/>
<path d="M410,448.3 H445" stroke="#fff" stroke-width="1.3"/>
<path d="M421,328.8 H434.7" stroke="#111" stroke-width="1.7"/>
<path d="M422.2,328 L423.8,325.2 M425.0,328 L426.6,325.2 M427.8,328 L429.4,325.2 M430.6,328 L432.2,325.2 M433.2,328 L434.8,325.2" stroke="#222" stroke-width="0.9"/>
<circle cx="430.5" cy="340.7" r="1.9" fill="#f0a040" fill-opacity="0.5" stroke="#efe04a" stroke-width="1.1"/>
<circle cx="437.3" cy="369.3" r="1.9" fill="#f0a040" fill-opacity="0.5" stroke="#efe04a" stroke-width="1.1"/>
<circle cx="427.6" cy="402.4" r="1.9" fill="#f0a040" fill-opacity="0.5" stroke="#efe04a" stroke-width="1.1"/>
<circle cx="419.6" cy="433.3" r="1.9" fill="#f0a040" fill-opacity="0.5" stroke="#efe04a" stroke-width="1.1"/>
<circle cx="426.9" cy="464.5" r="1.9" fill="#f0a040" fill-opacity="0.5" stroke="#efe04a" stroke-width="1.1"/>
<g stroke="#7c7c7c" stroke-width="1.55" fill="none"><path d="M532.2,339.2 L478.2,339.29"/><path d="M532.2,368.9 L478.2,341.81"/><path d="M532.2,397.4 L478.2,344.22"/><path d="M532.2,441.2 L478.2,347.94"/><path d="M532.2,466.4 L478.2,350.07"/><path d="M532.2,339.2 L478.2,366.20"/><path d="M532.2,368.9 L478.2,368.72"/><path d="M532.2,397.4 L478.2,371.13"/><path d="M532.2,441.2 L478.2,374.84"/><path d="M532.2,466.4 L478.2,376.98"/><path d="M532.2,339.2 L478.2,392.47"/><path d="M532.2,368.9 L478.2,394.98"/><path d="M532.2,397.4 L478.2,397.40"/><path d="M532.2,441.2 L478.2,401.11"/><path d="M532.2,466.4 L478.2,403.25"/><path d="M532.2,339.2 L478.2,432.19"/><path d="M532.2,368.9 L478.2,434.71"/><path d="M532.2,397.4 L478.2,437.12"/><path d="M532.2,441.2 L478.2,440.83"/><path d="M532.2,466.4 L478.2,442.97"/><path d="M532.2,339.2 L478.2,455.89"/><path d="M532.2,368.9 L478.2,458.41"/><path d="M532.2,397.4 L478.2,460.83"/><path d="M532.2,441.2 L478.2,464.54"/><path d="M532.2,466.4 L478.2,466.67"/></g>
<path d="M473.2,339.3 L482.01,343.29 L481.99,335.29 Z M473.2,339.3 L479.27,346.82 L482.86,339.67 Z M473.2,339.3 L476.66,348.32 L482.28,342.62 Z M473.2,339.3 L474.15,348.92 L481.07,344.91 Z M473.2,339.3 L473.28,348.97 L480.53,345.60 Z M473.2,368.7 L482.86,368.34 L479.28,361.19 Z M473.2,368.7 L481.99,372.73 L482.01,364.73 Z M473.2,368.7 L479.36,376.15 L482.86,368.95 Z M473.2,368.7 L475.65,378.05 L481.86,373.00 Z M473.2,368.7 L474.33,378.30 L481.17,374.17 Z M473.2,397.4 L482.27,394.07 L476.66,388.37 Z M473.2,397.4 L482.86,397.17 L479.38,389.97 Z M473.2,397.4 L482.00,401.40 L482.00,393.40 Z M473.2,397.4 L477.88,405.86 L482.65,399.43 Z M473.2,397.4 L475.88,406.69 L481.96,401.49 Z M473.2,440.8 L481.08,435.20 L474.16,431.18 Z M473.2,440.8 L481.87,436.53 L475.69,431.46 Z M473.2,440.8 L482.66,438.81 L477.92,432.36 Z M473.2,440.8 L481.97,444.86 L482.03,436.86 Z M473.2,440.8 L479.68,447.97 L482.86,440.63 Z M473.2,466.7 L480.53,460.39 L473.27,457.03 Z M473.2,466.7 L481.17,461.23 L474.32,457.10 Z M473.2,466.7 L481.95,462.59 L475.86,457.41 Z M473.2,466.7 L482.86,466.88 L479.69,459.54 Z M473.2,466.7 L482.02,470.66 L481.98,462.66 Z" fill="#7d7d7d"/>
<path d="M445.8,339.3 H458" stroke="#6a2c9e" stroke-width="1.7"/>
<path d="M438.8,339.3 L447.0,335.5 L447.0,343.1 Z" fill="#6a2c9e"/>
<path d="M448.4,368.7 H458" stroke="#6a2c9e" stroke-width="1.7"/>
<path d="M441.4,368.7 L449.6,364.9 L449.6,372.5 Z" fill="#6a2c9e"/>
<path d="M448.4,397.4 H458" stroke="#6a2c9e" stroke-width="1.7"/>
<path d="M441.4,397.4 L449.6,393.6 L449.6,401.2 Z" fill="#6a2c9e"/>
<path d="M448.4,440.8 H458" stroke="#6a2c9e" stroke-width="1.7"/>
<path d="M441.4,440.8 L449.6,437.0 L449.6,444.6 Z" fill="#6a2c9e"/>
<path d="M448.4,466.7 H458" stroke="#3e0e7a" stroke-width="1.7"/>
<path d="M441.4,466.7 L449.6,462.9 L449.6,470.5 Z" fill="#3e0e7a"/>
<circle cx="464.5" cy="339.3" r="6.3" fill="#fff" stroke="#111" stroke-width="1.8"/>
<path d="M463.0,337.4 L467.5,341.4" stroke="#111" stroke-width="1.9"/>
<circle cx="464.5" cy="368.7" r="6.3" fill="#fff" stroke="#111" stroke-width="1.8"/>
<path d="M463.0,366.8 L467.5,370.8" stroke="#111" stroke-width="1.9"/>
<circle cx="464.5" cy="397.4" r="6.3" fill="#fff" stroke="#111" stroke-width="1.8"/>
<path d="M463.0,395.5 L467.5,399.5" stroke="#111" stroke-width="1.9"/>
<circle cx="464.5" cy="440.8" r="6.3" fill="#fff" stroke="#111" stroke-width="1.8"/>
<path d="M463.0,438.9 L467.5,442.9" stroke="#111" stroke-width="1.9"/>
<circle cx="464.5" cy="466.7" r="6.3" fill="#fff" stroke="#111" stroke-width="1.8"/>
<path d="M463.0,464.8 L467.5,468.8" stroke="#111" stroke-width="1.9"/>
<circle cx="538.9" cy="339.2" r="6.1" fill="#fff" stroke="#111" stroke-width="1.8"/>
<circle cx="538.9" cy="368.9" r="6.1" fill="#fff" stroke="#111" stroke-width="1.8"/>
<circle cx="538.9" cy="397.4" r="6.1" fill="#fff" stroke="#111" stroke-width="1.8"/>
<circle cx="538.9" cy="441.2" r="6.1" fill="#fff" stroke="#111" stroke-width="1.8"/>
<circle cx="538.9" cy="466.4" r="6.1" fill="#fff" stroke="#111" stroke-width="1.8"/>
<circle cx="465.2" cy="415" r="1.35" fill="#111"/>
<circle cx="465.2" cy="420.6" r="1.35" fill="#111"/>
<circle cx="465.2" cy="426.2" r="1.35" fill="#111"/>
<circle cx="538.9" cy="415.2" r="1.35" fill="#111"/>
<circle cx="538.9" cy="420.7" r="1.35" fill="#111"/>
<circle cx="538.9" cy="426.2" r="1.35" fill="#111"/>
<path d="M585.8,466.8 L548.62,349.58" stroke="#1fa055" stroke-width="1.5"/>
<path d="M545.90,341.00 L544.33,350.94 L552.91,348.22 Z" fill="#1fa055"/>
<path d="M585.8,466.8 L549.35,379.01" stroke="#1fa055" stroke-width="1.5"/>
<path d="M545.90,370.70 L545.20,380.74 L553.51,377.29 Z" fill="#1fa055"/>
<path d="M585.8,466.8 L550.47,406.95" stroke="#1fa055" stroke-width="1.5" stroke-dasharray="4.5 3"/>
<path d="M545.90,399.20 L546.60,409.24 L554.35,404.66 Z" fill="#1fa055"/>
<path d="M585.8,466.8 L553.63,447.61" stroke="#1fa055" stroke-width="1.5"/>
<path d="M545.90,443.00 L551.32,451.48 L555.93,443.75 Z" fill="#1fa055"/>
<path d="M585.8,466.8 L555.20,466.72" stroke="#1fa055" stroke-width="1.5" stroke-dasharray="4.5 3"/>
<path d="M546.20,466.70 L555.19,471.22 L555.21,462.22 Z" fill="#1fa055"/>
<circle cx="593.6" cy="342" r="7.6" fill="#d6d6d6" stroke="#1c1c1c" stroke-width="1.8"/>
<circle cx="593.6" cy="374.8" r="7.6" fill="#d6d6d6" stroke="#1c1c1c" stroke-width="1.8"/>
<circle cx="593.3000000000001" cy="409.9" r="7.5" fill="#dcdcdc" stroke="#6c55a0" stroke-width="1.6" stroke-dasharray="4 2.2"/>
<circle cx="593.6" cy="467.3" r="7.6" fill="#d6d6d6" stroke="#1c1c1c" stroke-width="1.8"/>
<rect x="584.9" y="354.2" width="5.4" height="5.5" fill="#f7f1c4" stroke="#111" stroke-width="1.4"/>
<rect x="597" y="354.2" width="5.6" height="5.5" fill="#b8c8f2" stroke="#4a6cc0" stroke-width="1.4"/>
<rect x="584.9" y="386.8" width="5.4" height="5.5" fill="#f7f1c4" stroke="#111" stroke-width="1.4"/>
<rect x="597" y="386.8" width="5.6" height="5.5" fill="#b8c8f2" stroke="#4a6cc0" stroke-width="1.4"/>
<rect x="584.9" y="423.0" width="5.4" height="5.5" fill="#f7f1c4" stroke="#111" stroke-width="1.4"/>
<rect x="597" y="423.0" width="5.6" height="5.5" fill="#b8c8f2" stroke="#4a6cc0" stroke-width="1.4"/>
<path d="M593.6,350.5 V360" stroke="#1fa055" stroke-width="1.7"/>
<path d="M590.2,359.5 L597.0,359.5 L593.6,366.6 Z" fill="#1fa055"/>
<circle cx="593.4" cy="388.2" r="0.95" fill="#1fa055"/>
<circle cx="593.4" cy="393.3" r="0.95" fill="#1fa055"/>
<circle cx="593.4" cy="398.4" r="0.95" fill="#1fa055"/>
<path d="M593.6,418 V434" stroke="#1fa055" stroke-width="1.7"/>
<path d="M590.0,433.4 L597.2,433.4 L593.6,440.6 Z" fill="#1fa055"/>
<circle cx="593.4" cy="444.5" r="0.95" fill="#1fa055"/>
<circle cx="593.4" cy="449.5" r="0.95" fill="#1fa055"/>
<circle cx="593.4" cy="454.5" r="0.95" fill="#1fa055"/>
<path d="M609,342 H624.6" stroke="#4d6794" stroke-width="1.5"/>
<path d="M603.2,342 L610.8,337.9 L610.8,346.1 Z" fill="#4a6fb5"/>
<path d="M609,375.8 H624.6" stroke="#4d6794" stroke-width="1.5"/>
<path d="M603.2,375.8 L610.8,371.7 L610.8,379.9 Z" fill="#4a6fb5"/>
<path d="M609,410.8 H624.6" stroke="#4d6794" stroke-width="1.5"/>
<path d="M603.2,410.8 L610.8,406.7 L610.8,414.9 Z" fill="#4a6fb5"/>
<path d="M609,466.8 H624.6" stroke="#4d6794" stroke-width="1.5"/>
<path d="M603.2,466.8 L610.8,462.7 L610.8,470.9 Z" fill="#4a6fb5"/>
<rect x="630.8" y="331.5" width="3.6" height="147.2" fill="#4a86b8"/>
<rect x="635.9" y="331.5" width="3.1" height="147.2" fill="#d8705e"/>
<path d="M628,359.6 H642" stroke="#fff" stroke-width="1.3"/>
<path d="M628,390.6 H642" stroke="#fff" stroke-width="1.3"/>
<path d="M628,419.6 H642" stroke="#fff" stroke-width="1.3"/>
<path d="M628,450.5 H642" stroke="#fff" stroke-width="1.3"/>
<path d="M628.2,331 H642.3" stroke="#111" stroke-width="1.7"/>
<path d="M629.2,330.2 L630.8,327 M632.0,330.2 L633.6,327 M634.8,330.2 L636.4,327 M637.6,330.2 L639.2,327 M640.2,330.2 L641.8,327" stroke="#222" stroke-width="0.9"/>
<text x="390.2" y="401.4" font-family="Liberation Serif" font-style="italic" font-size="15.5" fill="#3a3a3a" stroke="#3a3a3a" stroke-width="0.35">u</text>
<text x="399.1" y="396.9" font-family="Liberation Serif" font-style="italic" font-size="10" fill="#3a3a3a">i</text>
<text x="397.9" y="405.6" letter-spacing="0.5" font-family="Liberation Serif" font-style="italic" font-size="12.3" fill="#3a3a3a" stroke="#3a3a3a" stroke-width="0.3">x,y</text>
<text x="612" y="401.6" font-family="Liberation Sans" font-style="italic" font-size="15.5" fill="#2a2a2a" stroke="#2a2a2a" stroke-width="0.2">&#981;</text>
<text x="622.9" y="395.2" font-family="Liberation Serif" font-style="italic" font-size="9" fill="#2a2a2a">i</text>
<text x="622.4" y="404.5" font-family="Liberation Serif" font-size="9.2" fill="#2a2a2a" stroke="#2a2a2a" stroke-width="0.35">1</text>
<text x="640.6" y="401.6" font-family="Liberation Sans" font-style="italic" font-size="15.5" fill="#2a2a2a" stroke="#2a2a2a" stroke-width="0.2">&#981;</text>
<text x="651.5" y="395.2" font-family="Liberation Serif" font-style="italic" font-size="9" fill="#2a2a2a">i</text>
<text x="650.8" y="404.5" font-family="Liberation Serif" font-size="9.2" fill="#2a2a2a" stroke="#2a2a2a" stroke-width="0.35">2</text>
</svg>
</body></html>
